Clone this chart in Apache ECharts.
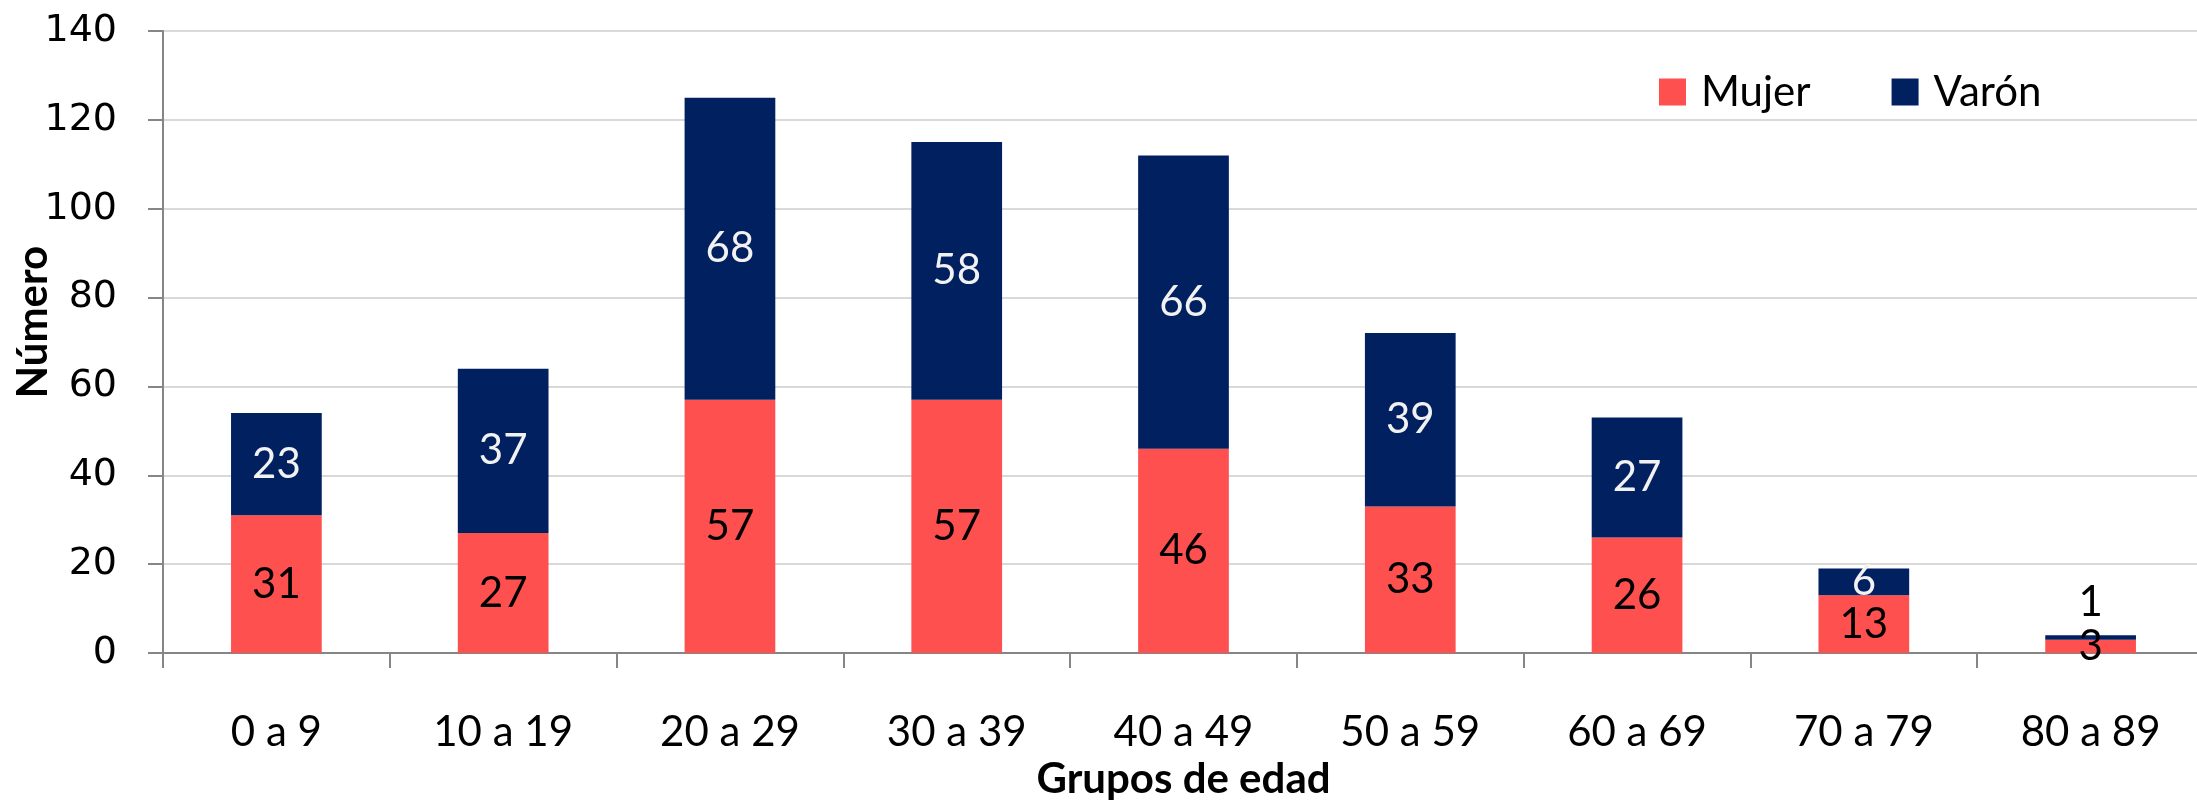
<!DOCTYPE html>
<html>
<head>
<meta charset="utf-8">
<script src="https://cdn.jsdelivr.net/npm/echarts@6/dist/echarts.min.js"></script>
<style>html,body{margin:0;padding:0;background:#fff}#c{width:2197px;height:800px}</style>
</head>
<body>
<div id="c"></div>
<script>
const categories = ['0 a 9','10 a 19','20 a 29','30 a 39','40 a 49','50 a 59','60 a 69','70 a 79','80 a 89'];
const mujer = [31,27,57,57,46,33,26,13,3];
const varon = [23,37,68,58,66,39,27,6,1];
const seriesNames = ['Mujer','Varón'];
const yTicks = {min:0, max:140, interval:20};
const yAxisTitle = 'Número';
const xAxisTitle = 'Grupos de edad';

const FONT = 'Lato';
const chart = echarts.init(document.getElementById('c'), null, {renderer:'canvas'});

// Tiny segment (80 a 89 Varón) label sits above the bar, as in the original
const varonData = varon.map((v,i) => (v < 3 ? {value:v, label:{position:'top', color:'#000', distance:12}} : v));

chart.setOption({
  animation:false,
  backgroundColor:'#fff',
  grid:{left:163, top:31, width:2041, height:622, containLabel:false, outerBoundsMode:'none'},
  legend:{
    left:1654, top:66, itemWidth:27, itemHeight:27, itemGap:81,
    icon:'rect',
    textStyle:{fontFamily:FONT, fontSize:42, color:'#000', padding:[0,0,0,10]},
    data:seriesNames
  },
  graphic:[{
    type:'text', x:33, y:322, rotation:Math.PI/2,
    style:{text:yAxisTitle, fontFamily:FONT, fontWeight:'bold', fontSize:42, fill:'#000', align:'center', verticalAlign:'middle'}
  }],
  xAxis:{
    type:'category', data:categories,
    name:xAxisTitle, nameLocation:'middle', nameGap:105,
    nameTextStyle:{fontFamily:FONT, fontWeight:'bold', fontSize:42, color:'#000'},
    axisLine:{lineStyle:{color:'#868686', width:2}},
    axisTick:{show:true, length:15, lineStyle:{color:'#868686', width:2}},
    axisLabel:{fontFamily:FONT, fontSize:42, color:'#000', margin:58}
  },
  yAxis:{
    type:'value', min:yTicks.min, max:yTicks.max, interval:yTicks.interval,
    axisLine:{show:true, lineStyle:{color:'#868686', width:2}},
    axisTick:{show:true, length:15, lineStyle:{color:'#868686', width:2}},
    axisLabel:{fontFamily:'DejaVu Sans', fontSize:38, color:'#000', margin:46},
    splitLine:{lineStyle:{color:'#d9d9d9', width:2}}
  },
  series:[
    {name:seriesNames[0], type:'bar', stack:'t', data:mujer, barCategoryGap:'60%',
     itemStyle:{color:'#FF5050'},
     label:{show:true, position:'inside', fontFamily:FONT, fontSize:42, color:'#000'}},
    {name:seriesNames[1], type:'bar', stack:'t', data:varonData, barCategoryGap:'60%',
     itemStyle:{color:'#002060'},
     label:{show:true, position:'inside', fontFamily:FONT, fontSize:42, color:'#f2f2f2'}}
  ]
});
</script>
</body>
</html>
